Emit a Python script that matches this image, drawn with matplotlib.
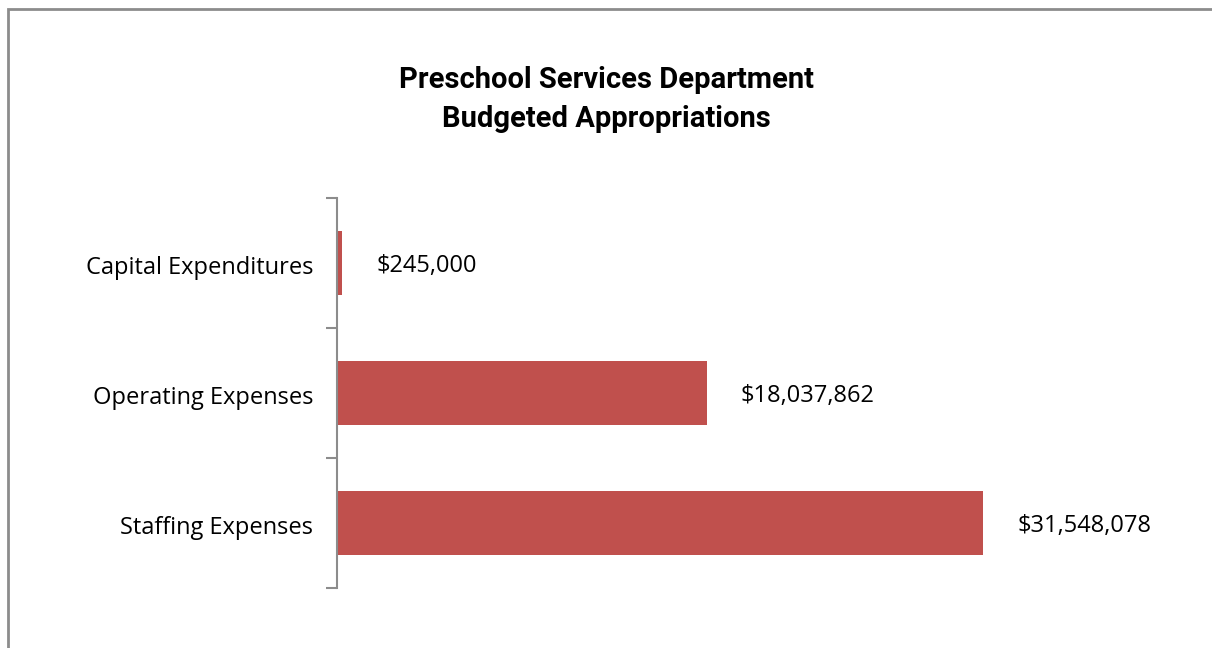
import matplotlib
matplotlib.use("Agg")
import matplotlib.pyplot as plt
from matplotlib.patches import Rectangle

categories = ["Staffing Expenses", "Operating Expenses", "Capital Expenditures"]
values = [31548078, 18037862, 245000]
labels = ["$31,548,078", "$18,037,862", "$245,000"]

W, H = 1212, 648
fig = plt.figure(figsize=(W / 100, H / 100), dpi=100)
fig.patch.set_facecolor("white")

# outer frame (gray border at left and top)
fig.add_artist(Rectangle((8 / W, -0.1), 1.2, (H - 9) / H + 0.1, transform=fig.transFigure,
                         facecolor="white", edgecolor="#8c8c8c", linewidth=2, zorder=0))

ax = fig.add_axes([337 / W, 60 / H, 717 / W, 390 / H])
ax.set_facecolor("none")
y = list(range(len(categories)))
bars = ax.barh(y, values, height=0.49, color="#C0504D", zorder=2)
ax.set_ylim(-0.5, 2.5)
ax.set_xlim(0, 35000000)

for yi, v, lab in zip(y, values, labels):
    ax.annotate(lab, xy=(v, yi), xytext=(34, -3), textcoords="offset pixels",
                ha="left", va="center", fontsize=17, family="Open Sans", color="black")

ax.set_yticks([-0.5, 0.5, 1.5, 2.5])
ax.set_yticklabels([])
ax.set_yticks([yi - 0.015 for yi in y], minor=True)
ax.set_yticklabels(categories, minor=True, fontsize=17, family="Open Sans")
ax.tick_params(axis="y", which="minor", length=0, pad=17)
ax.tick_params(axis="y", which="major", length=8, width=1.5, color="#8c8c8c")
ax.set_xticks([])
for s in ["top", "right", "bottom"]:
    ax.spines[s].set_visible(False)
ax.spines["left"].set_color("#8c8c8c")
ax.spines["left"].set_linewidth(1.5)

fig.text(0.5, 1 - 80 / H, "Preschool Services Department", ha="center", va="center",
         fontsize=21, fontweight="bold", family="Roboto")
fig.text(0.5, 1 - 119 / H, "Budgeted Appropriations", ha="center", va="center",
         fontsize=21, fontweight="bold", family="Roboto")

fig.savefig("out.png", dpi=100)
